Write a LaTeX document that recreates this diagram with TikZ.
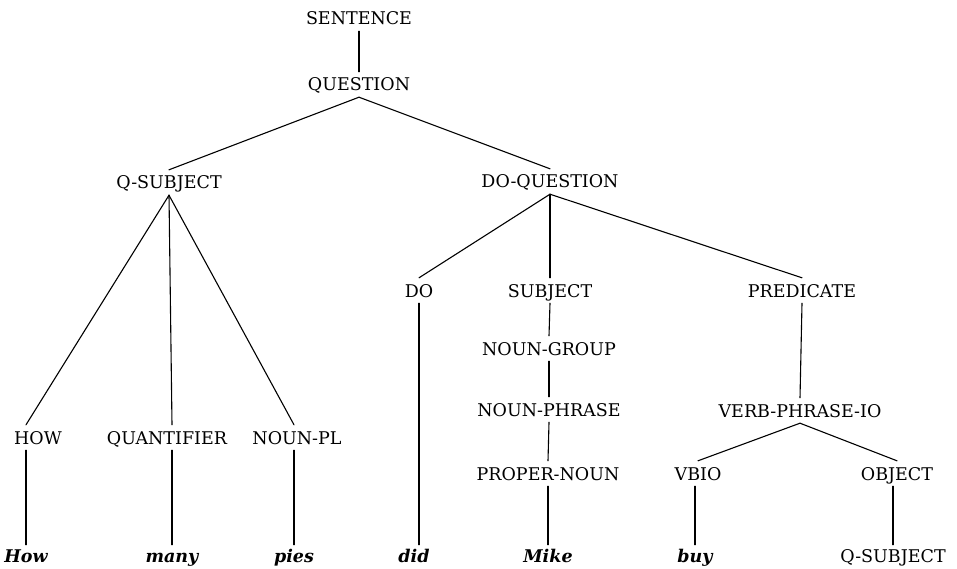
\documentclass[tikz,border=0pt]{standalone}
\usepackage{fontspec}
\setmainfont{DejaVu Serif}
\begin{document}
\begin{tikzpicture}[x=1pt,y=-1pt,
  cat/.style={font=\fontsize{17.5}{20}\selectfont, inner xsep=0pt, inner ysep=6pt,
              text height=13pt, text depth=0pt, anchor=base},
  word/.style={font=\fontsize{17.5}{20}\selectfont\bfseries\itshape, inner xsep=0pt,
               inner ysep=4pt, text height=13pt, text depth=0pt, anchor=base},
  wordcat/.style={cat, inner ysep=4pt},
  edge/.style={line width=1.1pt, line cap=round}]
\useasboundingbox (0,0) rectangle (957,569);
% categories
\node[cat] (sent)  at (359,25)  {SENTENCE};
\node[cat] (ques)  at (359,91)  {QUESTION};
\node[cat] (qs)    at (169,189) {Q-SUBJECT};
\node[cat] (doq)   at (550,188) {DO-QUESTION};
\node[cat] (do)    at (419,297) {DO};
\node[cat] (subj)  at (550,297) {SUBJECT};
\node[cat] (pred)  at (802,297) {PREDICATE};
\node[cat] (ng)    at (549,355) {NOUN-GROUP};
\node[cat] (np)    at (549,416) {NOUN-PHRASE};
\node[cat] (vpio)  at (800,417) {VERB-PHRASE-IO};
\node[cat] (how)   at (38,444)  {HOW};
\node[cat] (quant) at (167,444) {QUANTIFIER};
\node[cat] (npl)   at (297,444) {NOUN-PL};
\node[cat] (pn)    at (548,480) {PROPER-NOUN};
\node[cat] (vbio)  at (698,480) {VBIO};
\node[cat] (obj)   at (897,480) {OBJECT};
% words
\node[word] (w1) at (26,562)  {How};
\node[word] (w2) at (172,562) {many};
\node[word] (w3) at (294,562) {pies};
\node[word] (w4) at (414,562) {did};
\node[word] (w5) at (548,562) {Mike};
\node[word] (w6) at (695,562) {buy};
\node[wordcat] (w7) at (893,562) {Q-SUBJECT};
% edges
\draw[edge] (sent.south) -- (ques.north);
\draw[edge] (ques.south) -- (qs.north);
\draw[edge] (ques.south) -- (doq.north);
\draw[edge] (qs.south) -- (how.north -| w1.north);
\draw[edge] (qs.south) -- (quant.north -| w2.north);
\draw[edge] (qs.south) -- (npl.north -| w3.north);
\draw[edge] (how.south -| w1.north) -- (w1.north);
\draw[edge] (quant.south -| w2.north) -- (w2.north);
\draw[edge] (npl.south -| w3.north) -- (w3.north);
\draw[edge] (doq.south) -- (do.north);
\draw[edge] (doq.south) -- (subj.north);
\draw[edge] (doq.south) -- (pred.north);
\draw[edge] (do.south) -- (do.south |- w4.north);
\draw[edge] (subj.south) -- (ng.north);
\draw[edge] (ng.south) -- (np.north);
\draw[edge] (np.south) -- (pn.north);
\draw[edge] (pn.south) -- (w5.north);
\draw[edge] (pred.south) -- (vpio.north);
\draw[edge] (vpio.south) -- (vbio.north);
\draw[edge] (vpio.south) -- (obj.north);
\draw[edge] (vbio.south -| w6.north) -- (w6.north);
\draw[edge] (obj.south -| w7.north) -- (w7.north);
\end{tikzpicture}
\end{document}
